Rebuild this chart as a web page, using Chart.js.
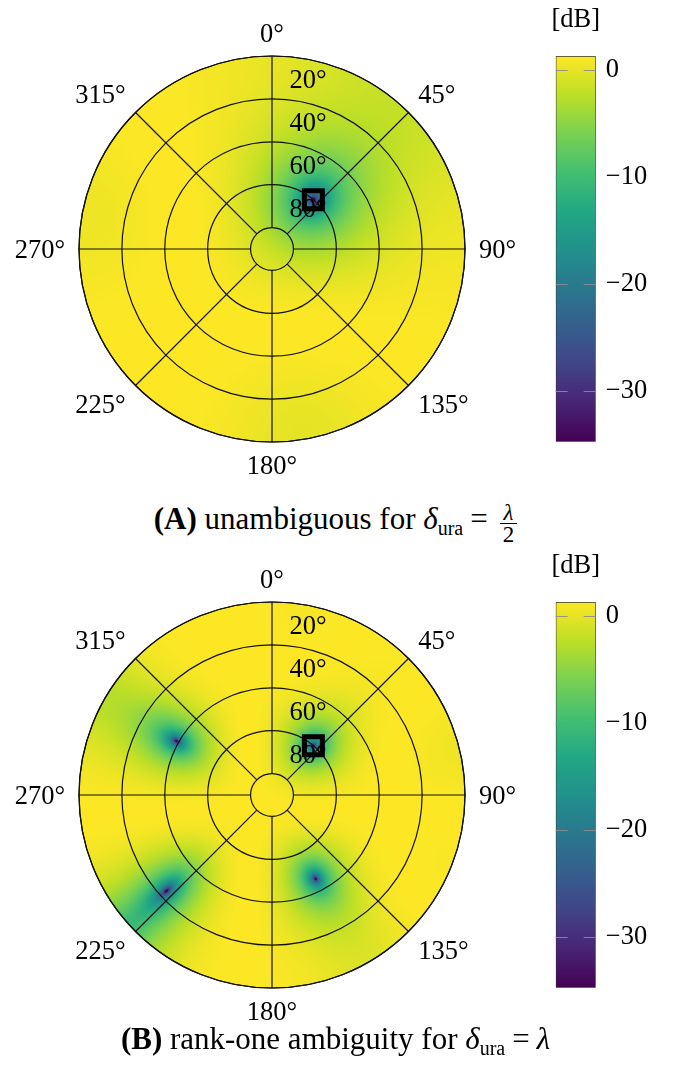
<!DOCTYPE html>
<html>
<head>
<meta charset="utf-8">
<script src="https://cdn.jsdelivr.net/npm/chart.js@4.4.0/dist/chart.umd.min.js"></script>
<style>
  body { margin: 0; background: #fff; width: 679px; height: 1086px; position: relative; overflow: hidden; }
  canvas { position: absolute; }
  .caption { position: absolute; left: -4px; width: 679px; text-align: center; font-family: "Liberation Serif", serif; font-size: 31px; line-height: 34px; color: #000; white-space: nowrap; }
  .caption sub { font-size: 20px; vertical-align: -6px; line-height: 0; }
  .caption .eq { margin: 0 7px; }
  .frac { display: inline-block; vertical-align: -13px; text-align: center; font-size: 23px; line-height: 21px; margin-left: 5px; }
  .frac span { display: block; padding: 0 3px; }
  .frac .num { border-bottom: 1px solid #000; }
</style>
</head>
<body>
<canvas id="polarA" width="540" height="500" style="left:0;top:0"></canvas>
<canvas id="cbarA" width="159" height="500" style="left:520px;top:0"></canvas>
<div class="caption" style="top:502px"><b>(A)</b> unambiguous for <i>δ</i><sub>ura</sub><span class="eq">=</span><span class="frac"><span class="num"><i>λ</i></span><span>2</span></span></div>

<canvas id="polarB" width="540" height="500" style="left:0;top:546px"></canvas>
<canvas id="cbarB" width="159" height="500" style="left:520px;top:546px"></canvas>
<div class="caption" style="top:1022px"><b>(B)</b> rank-one ambiguity for <i>δ</i><sub>ura</sub><span class="eq">=</span><i>λ</i></div>

<script>
// azimuth categories (degrees, clockwise from north) and labelled spokes
const azimuthStep = 5;
const azimuthCats = Array.from({ length: 360 / azimuthStep }, (_, i) => i * azimuthStep);
const azimuthTicks = [0, 45, 90, 135, 180, 225, 270, 315];
// elevation rings, 90 deg at the centre, 0 deg at the rim
const elevationTicks = [20, 40, 60, 80];
const elevationRange = [0, 90];
// colour bar
const dbRange = [-34.7, 1.34];
const colorbarTicks = [0, -10, -20, -30];
// source direction (black square) and element spacing / lambda for panels A, B
const sourceAz = [40, 40];
const sourceEl = [60, 60];
const spacing = [0.5, 1];

const viridis = [
  [68, 1, 84], [72, 36, 117], [65, 68, 135], [53, 95, 141], [42, 120, 142],
  [33, 145, 140], [34, 168, 132], [68, 191, 112], [122, 209, 81], [189, 223, 38], [253, 231, 37],
];

const SERIF = '"Liberation Serif", serif';
const FONT_PX = 26.5;
const CAP_H = 18;

function viridisAt(t) {
  t = Math.min(1, Math.max(0, t)) * (viridis.length - 1);
  const i = Math.min(viridis.length - 2, Math.floor(t));
  const f = t - i;
  const a = viridis[i], b = viridis[i + 1];
  return [a[0] + (b[0] - a[0]) * f, a[1] + (b[1] - a[1]) * f, a[2] + (b[2] - a[2]) * f];
}

// 1 - |a(theta)^H a(theta0)|^2 of a 2x2 URA, in dB
function fieldDb(p, az, el) {
  const d = spacing[p];
  const a0 = sourceAz[p] * Math.PI / 180, e0 = sourceEl[p] * Math.PI / 180;
  const u = Math.cos(el) * Math.sin(az), v = Math.cos(el) * Math.cos(az);
  const u0 = Math.cos(e0) * Math.sin(a0), v0 = Math.cos(e0) * Math.cos(a0);
  const af = Math.cos(Math.PI * d * (u - u0)) * Math.cos(Math.PI * d * (v - v0));
  const cost = Math.max(1 - af * af, 1e-6);
  return 10 * Math.log10(cost) + dbRange[1];
}

function degLabel(v) { return v + '°'; }

const polarDecor = {
  id: 'polarDecor',
  beforeDraw(chart, args, opts) {
    const s = chart.scales.r;
    const ctx = chart.ctx;
    const R = s.drawingArea;
    const half = Math.ceil(R) + 1;
    const off = document.createElement('canvas');
    off.width = off.height = half * 2;
    const octx = off.getContext('2d');
    const img = octx.createImageData(half * 2, half * 2);
    for (let py = 0; py < half * 2; py++) {
      for (let px = 0; px < half * 2; px++) {
        const dx = px + 0.5 - half, dy = py + 0.5 - half;
        const dist = Math.hypot(dx, dy);
        if (dist > R + 1) continue;
        const el = s.getValueForDistanceFromCenter(Math.min(dist, R)) * Math.PI / 180;
        const az = Math.atan2(dy, dx) + Math.PI / 2 - s.getIndexAngle(0);
        const db = fieldDb(opts.panel, az, el);
        const c = viridisAt((db - dbRange[0]) / (dbRange[1] - dbRange[0]));
        const k = (py * half * 2 + px) * 4;
        img.data[k] = c[0]; img.data[k + 1] = c[1]; img.data[k + 2] = c[2]; img.data[k + 3] = 255;
      }
    }
    octx.putImageData(img, 0, 0);
    ctx.save();
    ctx.beginPath();
    ctx.arc(s.xCenter, s.yCenter, R, 0, Math.PI * 2);
    ctx.clip();
    ctx.drawImage(off, s.xCenter - half, s.yCenter - half);
    ctx.restore();
  },
  beforeDatasetsDraw(chart) {
    const s = chart.scales.r;
    const ctx = chart.ctx;
    const R = s.drawingArea;
    const rIn = s.getDistanceFromCenterForValue(elevationTicks[elevationTicks.length - 1]);
    ctx.save();
    ctx.strokeStyle = '#111';
    ctx.lineWidth = 1.2;
    // spokes from the innermost ring to the rim
    azimuthTicks.forEach((az) => {
      const idx = az / azimuthStep;
      const p0 = s.getPointPosition(idx, rIn);
      const p1 = s.getPointPosition(idx, R);
      ctx.beginPath();
      ctx.moveTo(p0.x, p0.y);
      ctx.lineTo(p1.x, p1.y);
      ctx.stroke();
    });
    ctx.beginPath();
    ctx.arc(s.xCenter, s.yCenter, R, 0, Math.PI * 2);
    ctx.stroke();

    ctx.fillStyle = '#000';
    ctx.font = FONT_PX + 'px ' + SERIF;
    // elevation labels above each ring, right of the 0 deg spoke
    ctx.textAlign = 'left';
    ctx.textBaseline = 'alphabetic';
    elevationTicks.forEach((e) => {
      const y = s.yCenter - s.getDistanceFromCenterForValue(e);
      ctx.fillText(degLabel(e), s.xCenter + 17.5, y - 10.5);
    });
    // azimuth labels outside the rim
    const gap = 14;
    azimuthTicks.forEach((az) => {
      const p = s.getPointPosition(az / azimuthStep, R + gap);
      const sx = Math.sin(az * Math.PI / 180), cy = Math.cos(az * Math.PI / 180);
      ctx.textAlign = sx > 0.1 ? 'left' : sx < -0.1 ? 'right' : 'center';
      let y = p.y;
      if (cy < -0.1) y = p.y + CAP_H;
      else if (Math.abs(cy) <= 0.1) y = p.y + CAP_H / 2;
      ctx.fillText(degLabel(az), p.x, y);
    });
    ctx.restore();
  },
};

function polarChart(id, p) {
  const markerData = azimuthCats.map((a) => (a === sourceAz[p] ? sourceEl[p] : null));
  new Chart(document.getElementById(id), {
    type: 'radar',
    data: {
      labels: azimuthCats,
      datasets: [{
        data: markerData,
        showLine: false,
        fill: false,
        pointStyle: 'rect',
        pointRadius: 12.7,
        pointBorderWidth: 5,
        pointBorderColor: '#000',
        pointBackgroundColor: 'rgba(0,0,0,0)',
      }],
    },
    options: {
      responsive: false,
      animation: false,
      devicePixelRatio: 1,
      layout: { padding: { left: 79, right: 75, top: 56, bottom: 58 } },
      plugins: { legend: { display: false }, tooltip: { enabled: false }, polarDecor: { panel: p } },
      scales: {
        r: {
          min: elevationRange[0],
          max: elevationRange[1],
          reverse: true,
          afterBuildTicks: (scale) => {
            scale.ticks = [elevationRange[1], elevationRange[0]].concat(elevationTicks).map((v) => ({ value: v }));
          },
          ticks: { display: false },
          pointLabels: { display: false },
          angleLines: { display: false },
          grid: { circular: true, color: '#111', lineWidth: 1.2 },
        },
      },
    },
    plugins: [polarDecor],
  });
}

const colorbarDecor = {
  id: 'colorbarDecor',
  afterDatasetsDraw(chart) {
    const y = chart.scales.y;
    const { left, right } = chart.chartArea;
    const ctx = chart.ctx;
    ctx.save();
    ctx.strokeStyle = 'rgba(140,140,140,0.9)';
    ctx.lineWidth = 1;
    colorbarTicks.forEach((t) => {
      const py = Math.round(y.getPixelForValue(t)) + 0.5;
      ctx.beginPath();
      ctx.moveTo(left, py); ctx.lineTo(left + 12, py);
      ctx.moveTo(right - 12, py); ctx.lineTo(right, py);
      ctx.stroke();
    });
    ctx.fillStyle = '#000';
    ctx.font = FONT_PX + 'px ' + SERIF;
    ctx.textAlign = 'center';
    ctx.textBaseline = 'alphabetic';
    ctx.fillText('[dB]', (left + right) / 2, 27);
    ctx.restore();
  },
};

function colorbarChart(id) {
  new Chart(document.getElementById(id), {
    type: 'bar',
    data: {
      labels: ['dB'],
      datasets: [{
        data: [[dbRange[0], dbRange[1]]],
        barPercentage: 1,
        categoryPercentage: 1,
        borderColor: '#333',
        borderWidth: 1,
        borderSkipped: false,
        backgroundColor: (c) => {
          const chart = c.chart;
          if (!chart.chartArea) return null;
          const y = chart.scales.y;
          const g = chart.ctx.createLinearGradient(0, y.getPixelForValue(dbRange[0]), 0, y.getPixelForValue(dbRange[1]));
          viridis.forEach((col, i) => g.addColorStop(i / (viridis.length - 1), 'rgb(' + col.join(',') + ')'));
          return g;
        },
      }],
    },
    options: {
      responsive: false,
      animation: false,
      devicePixelRatio: 1,
      layout: { padding: { left: 35.7, right: 23.3, top: 56, bottom: 58.3 } },
      plugins: { legend: { display: false }, tooltip: { enabled: false } },
      scales: {
        x: { display: false },
        y: {
          position: 'right',
          min: dbRange[0],
          max: dbRange[1],
          afterBuildTicks: (scale) => { scale.ticks = colorbarTicks.map((v) => ({ value: v })); },
          afterFit: (scale) => { scale.width = 60; },
          grid: { drawOnChartArea: false, drawTicks: false },
          border: { display: false },
          ticks: {
            padding: 10,
            color: '#000',
            font: { family: SERIF, size: FONT_PX },
            callback: (v) => (v < 0 ? '\u2212' + Math.abs(v) : String(v)),
          },
        },
      },
    },
    plugins: [colorbarDecor],
  });
}

polarChart('polarA', 0);
colorbarChart('cbarA');
polarChart('polarB', 1);
colorbarChart('cbarB');
</script>
</body>
</html>
